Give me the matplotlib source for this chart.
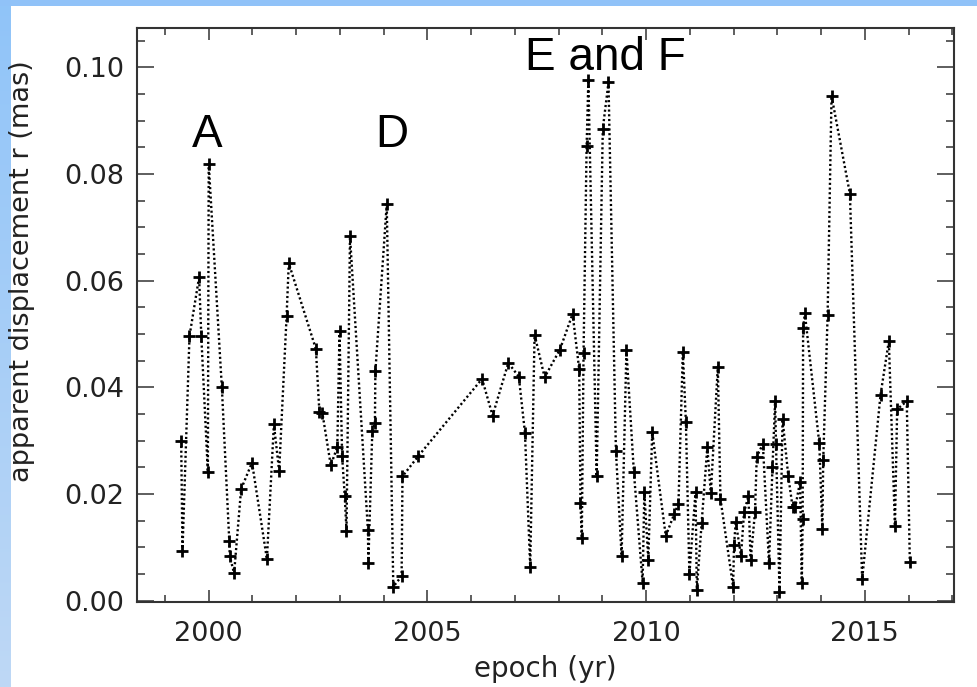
import numpy as np
import matplotlib
matplotlib.use("Agg")
import matplotlib.pyplot as plt
from matplotlib.ticker import MultipleLocator, FormatStrFormatter

# epoch (yr) and apparent displacement r (mas)
epoch = [
    1999.37, 1999.40, 1999.56, 1999.78, 1999.83, 1999.98, 2000.00, 2000.30,
    2000.47, 2000.48, 2000.58, 2000.74, 2000.99, 2001.33, 2001.49, 2001.61,
    2001.78, 2001.83, 2002.45, 2002.53, 2002.60, 2002.79, 2002.94, 2002.99,
    2003.05, 2003.11, 2003.15, 2003.23, 2003.64, 2003.65, 2003.74, 2003.80,
    2003.81, 2004.07, 2004.22, 2004.41, 2004.43, 2004.79, 2006.25, 2006.49,
    2006.85, 2007.09, 2007.23, 2007.35, 2007.45, 2007.68, 2008.03, 2008.32,
    2008.47, 2008.50, 2008.53, 2008.57, 2008.64, 2008.68, 2008.87, 2009.01,
    2009.14, 2009.31, 2009.44, 2009.55, 2009.72, 2009.92, 2009.96, 2010.05,
    2010.14, 2010.45, 2010.64, 2010.74, 2010.84, 2010.91, 2010.99, 2011.13,
    2011.16, 2011.27, 2011.40, 2011.48, 2011.64, 2011.70, 2011.99, 2012.01,
    2012.05, 2012.17, 2012.24, 2012.34, 2012.39, 2012.49, 2012.53, 2012.67,
    2012.81, 2012.89, 2012.95, 2012.97, 2013.05, 2013.12, 2013.25, 2013.35,
    2013.41, 2013.52, 2013.56, 2013.58, 2013.59, 2013.63, 2013.96, 2014.03,
    2014.05, 2014.15, 2014.24, 2014.66, 2014.94, 2015.36, 2015.55, 2015.69,
    2015.74, 2015.96, 2016.03,
]
displacement = [
    0.0299, 0.0093, 0.0496, 0.0607, 0.0496, 0.0241, 0.0819, 0.0400,
    0.0112, 0.0084, 0.0051, 0.0209, 0.0259, 0.0078, 0.0331, 0.0243,
    0.0533, 0.0633, 0.0472, 0.0354, 0.0351, 0.0254, 0.0288, 0.0505,
    0.0271, 0.0196, 0.0131, 0.0684, 0.0132, 0.0071, 0.0319, 0.0333,
    0.0430, 0.0744, 0.0026, 0.0046, 0.0233, 0.0271, 0.0416, 0.0347,
    0.0446, 0.0420, 0.0315, 0.0064, 0.0499, 0.0419, 0.0471, 0.0538,
    0.0434, 0.0184, 0.0117, 0.0465, 0.0852, 0.0977, 0.0233, 0.0885,
    0.0972, 0.0281, 0.0084, 0.0470, 0.0242, 0.0034, 0.0203, 0.0077,
    0.0316, 0.0121, 0.0162, 0.0181, 0.0467, 0.0335, 0.0050, 0.0204,
    0.0020, 0.0146, 0.0288, 0.0201, 0.0439, 0.0191, 0.0026, 0.0104,
    0.0148, 0.0084, 0.0166, 0.0196, 0.0076, 0.0166, 0.0270, 0.0294,
    0.0070, 0.0251, 0.0374, 0.0294, 0.0017, 0.0341, 0.0234, 0.0175,
    0.0175, 0.0223, 0.0034, 0.0153, 0.0511, 0.0539, 0.0295, 0.0134,
    0.0264, 0.0535, 0.0947, 0.0763, 0.0040, 0.0386, 0.0487, 0.0140,
    0.0359, 0.0374, 0.0073,
]

# flare labels: (text, epoch, baseline r)
flare_labels = [("A", 1999.97, 0.0851), ("D", 2004.19, 0.0851),
                ("E and F", 2009.08, 0.0996)]

W, H = 977, 687
fig = plt.figure(figsize=(W / 100, H / 100), dpi=100)
fig.patch.set_facecolor("white")

# slide frame: blue strip on top, gradient strip on the left
bg = fig.add_axes([0, 0, 1, 1], zorder=-10)
bg.axis("off")
top_c = np.array([144, 196, 249]) / 255
bot_c = np.array([190, 216, 245]) / 255
t = np.linspace(0, 1, 256)[:, None, None]
grad = top_c * (1 - t) + bot_c * t
bg.imshow(grad, extent=[0, 11, H, 0], aspect="auto", interpolation="bilinear")
bg.add_patch(plt.Rectangle((0, 0), W, 6, color="#90c2f8", lw=0))
bg.set_xlim(0, W)
bg.set_ylim(H, 0)

ax = fig.add_axes([137 / W, 1 - 601.7 / H, (954 - 137) / W, (601.7 - 27.5) / H])
ax.set_facecolor("white")

ax.plot(epoch, displacement, color="black", lw=1.7, linestyle=(0, (0.9, 1.1)),
        marker="+", markersize=9, markeredgewidth=2.0, zorder=3)

ax.set_xlim(1998.36, 2017.04)
ax.set_ylim(-0.0002, 0.1075)

ax.xaxis.set_major_locator(MultipleLocator(5))
ax.xaxis.set_minor_locator(MultipleLocator(1))
ax.yaxis.set_major_locator(MultipleLocator(0.02))
ax.yaxis.set_minor_locator(MultipleLocator(0.005))
ax.yaxis.set_major_formatter(FormatStrFormatter("%.2f"))

axis_col = "#333333"
for s in ax.spines.values():
    s.set_color(axis_col)
    s.set_linewidth(1.5)

ax.tick_params(which="both", direction="in", top=True, right=True,
               color=axis_col, width=1.1, labelsize=19.5,
               labelcolor="#222222")
ax.tick_params(axis="y", which="major", length=12, pad=9)
ax.tick_params(axis="y", which="minor", length=6)
ax.tick_params(axis="x", which="major", length=8.5, pad=14)
ax.tick_params(axis="x", which="minor", length=5)

ax.set_xlabel("epoch (yr)", fontsize=20, color="#222222", labelpad=6)
ax.set_ylabel("apparent displacement r (mas)", fontsize=19.5, color="#222222")
ax.yaxis.set_label_coords(-0.125, 0.575)

for text, x, y in flare_labels:
    ax.text(x, y, text, ha="center", va="baseline", fontsize=33,
            family="Liberation Sans", color="black", zorder=5, clip_on=False)

fig.savefig("out.png", dpi=100, facecolor=fig.get_facecolor())
